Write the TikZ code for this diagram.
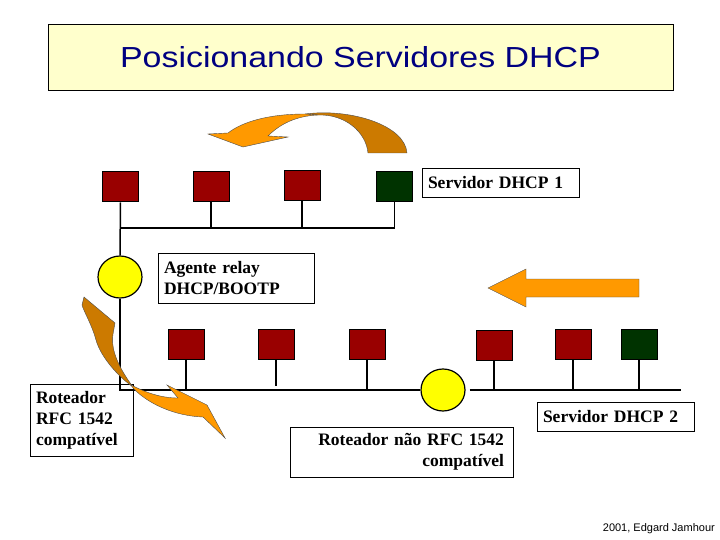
\documentclass[tikz,border=0pt]{standalone}
\usepackage{fontspec}
\setmainfont{Liberation Serif}
\newfontfamily\arialf{Liberation Sans}
\usetikzlibrary{shapes.geometric}
\definecolor{titlebg}{RGB}{255,255,204}
\definecolor{navy}{RGB}{0,0,128}
\definecolor{dred}{RGB}{153,0,0}
\definecolor{dgreen}{RGB}{0,51,0}
\definecolor{ryellow}{RGB}{255,255,0}
\definecolor{orL}{RGB}{255,153,0}
\definecolor{orD}{RGB}{204,122,0}
\begin{document}
\begin{tikzpicture}[x=1pt,y=-1pt,
  wire/.style={line width=1.5pt},
  host/.style={draw=black,line width=1pt,fill=dred,minimum width=36pt,minimum height=30pt,inner sep=0pt},
  srvhost/.style={host,fill=dgreen},
  router/.style={ellipse,draw=black,line width=1.2pt,fill=ryellow,minimum width=44pt,minimum height=42pt,inner sep=0pt},
  lbl/.style={draw=black,line width=0.8pt,font=\fontsize{17.5}{21}\selectfont\bfseries,inner xsep=6pt,inner ysep=0pt},
  arrowL/.style={fill=orL,draw=black!70,line width=0.4pt},
  arrowD/.style={fill=orD,draw=black!70,line width=0.4pt}]
\useasboundingbox (0,0) rectangle (720,540);

% title
\node[draw=black,line width=0.8pt,fill=titlebg,minimum width=625pt,minimum height=66pt,inner sep=0pt,text=navy]
  (title) at (360.5,57) {\arialf\fontsize{29}{32}\selectfont\scalebox{1.17}[1]{Posicionando Servidores DHCP}};

% top network
\node[host] (s1) at (120.5,187) {};
\node[host] (s2) at (211,187) {};
\node[host] (s3) at (302,185.5) {};
\node[srvhost] (s4) at (394.5,187) {};
\node[lbl,text width=145pt,align=left,minimum height=29pt] (srv1) at (500.5,182.5) {Servidor DHCP 1};

\coordinate (topbus) at (0,228);
\coordinate (botbus) at (0,390);
\coordinate (busend) at (681,390);

\node[router] (r1) at (120,277) {};
\node[lbl,text width=144pt,align=left,minimum height=50pt] (relay) at (236,278) {Agente relay\\DHCP/BOOTP};

% bottom network
\node[host] (b1) at (186,344) {};
\node[host] (b2) at (276,344) {};
\node[host] (b3) at (367,344) {};
\node[router] (r2) at (443,390) {};
\node[host] (b4) at (494,345) {};
\node[host] (b5) at (573,344) {};
\node[srvhost] (b6) at (639,344) {};

\node[lbl,text width=91pt,align=left,minimum height=72pt] (rot) at (81.5,420) {Roteador\\RFC 1542\\compat\'ivel};
\node[lbl,text width=205pt,align=right,inner xsep=9pt,minimum height=50pt] (rotnao) at (401.5,452) {Roteador n\~ao RFC 1542\\compat\'ivel};
\node[lbl,text width=145pt,align=left,minimum height=29pt] (srv2) at (615.5,416.5) {Servidor DHCP 2};

\node[anchor=east,font=\arialf\fontsize{11}{12}\selectfont,inner sep=0pt] (foot) at (715,529) {2001, Edgard Jamhour};

% wires
\draw[wire] (s1.south) -- (r1.north);
\draw[wire] (s1.south |- topbus) -| (s4.south);
\draw[wire] (s2.south) -- (s2.south |- topbus);
\draw[wire] (s3.south) -- (s3.south |- topbus);
\draw[wire] (r1.south) |- (r2.west);
\draw[wire,shorten <=4pt] (r2.east) -- (busend);
\draw[wire] (b1.south) -- (b1.south |- botbus);
\draw[wire,shorten >=4pt] (b2.south) -- (b2.south |- botbus);
\draw[wire] (b3.south) -- (b3.south |- botbus);
\draw[wire] (b4.south) -- (b4.south |- botbus);
\draw[wire] (b5.south) -- (b5.south |- botbus);
\draw[wire] (b6.south) -- (b6.south |- botbus);

% straight block arrow
\draw[arrowL] (488,288) -- (526,269) -- (526,279) -- (639,279) -- (639,297) -- (526,297) -- (526,307) -- cycle;

% top curved arrow
\draw[arrowD] (305,114) .. controls (350,108) and (405,125) .. (407,153) -- (368,153)
  .. controls (366,132) and (345,114) .. (318,115) -- cycle;
\draw[arrowL] (305,114) .. controls (268,114) and (242,122) .. (228,133) -- (208,134) -- (243,147)
  -- (288,137) -- (268,136) .. controls (280,124) and (296,116) .. (318,115) -- cycle;

% left curved arrow
\draw[arrowD] (84,297) -- (115,323) -- (113,334) .. controls (110,352) and (122,372) .. (133,387)
  .. controls (116,375) and (100,355) .. (96,340) .. controls (92,325) and (84,312) .. (82,305) -- cycle;
\draw[arrowL] (131,385) .. controls (145,392) and (160,398) .. (178,398) -- (167,385) -- (207,405)
  -- (225,438) -- (203,417) .. controls (175,416) and (148,404) .. (133,388) -- cycle;
\end{tikzpicture}
\end{document}
